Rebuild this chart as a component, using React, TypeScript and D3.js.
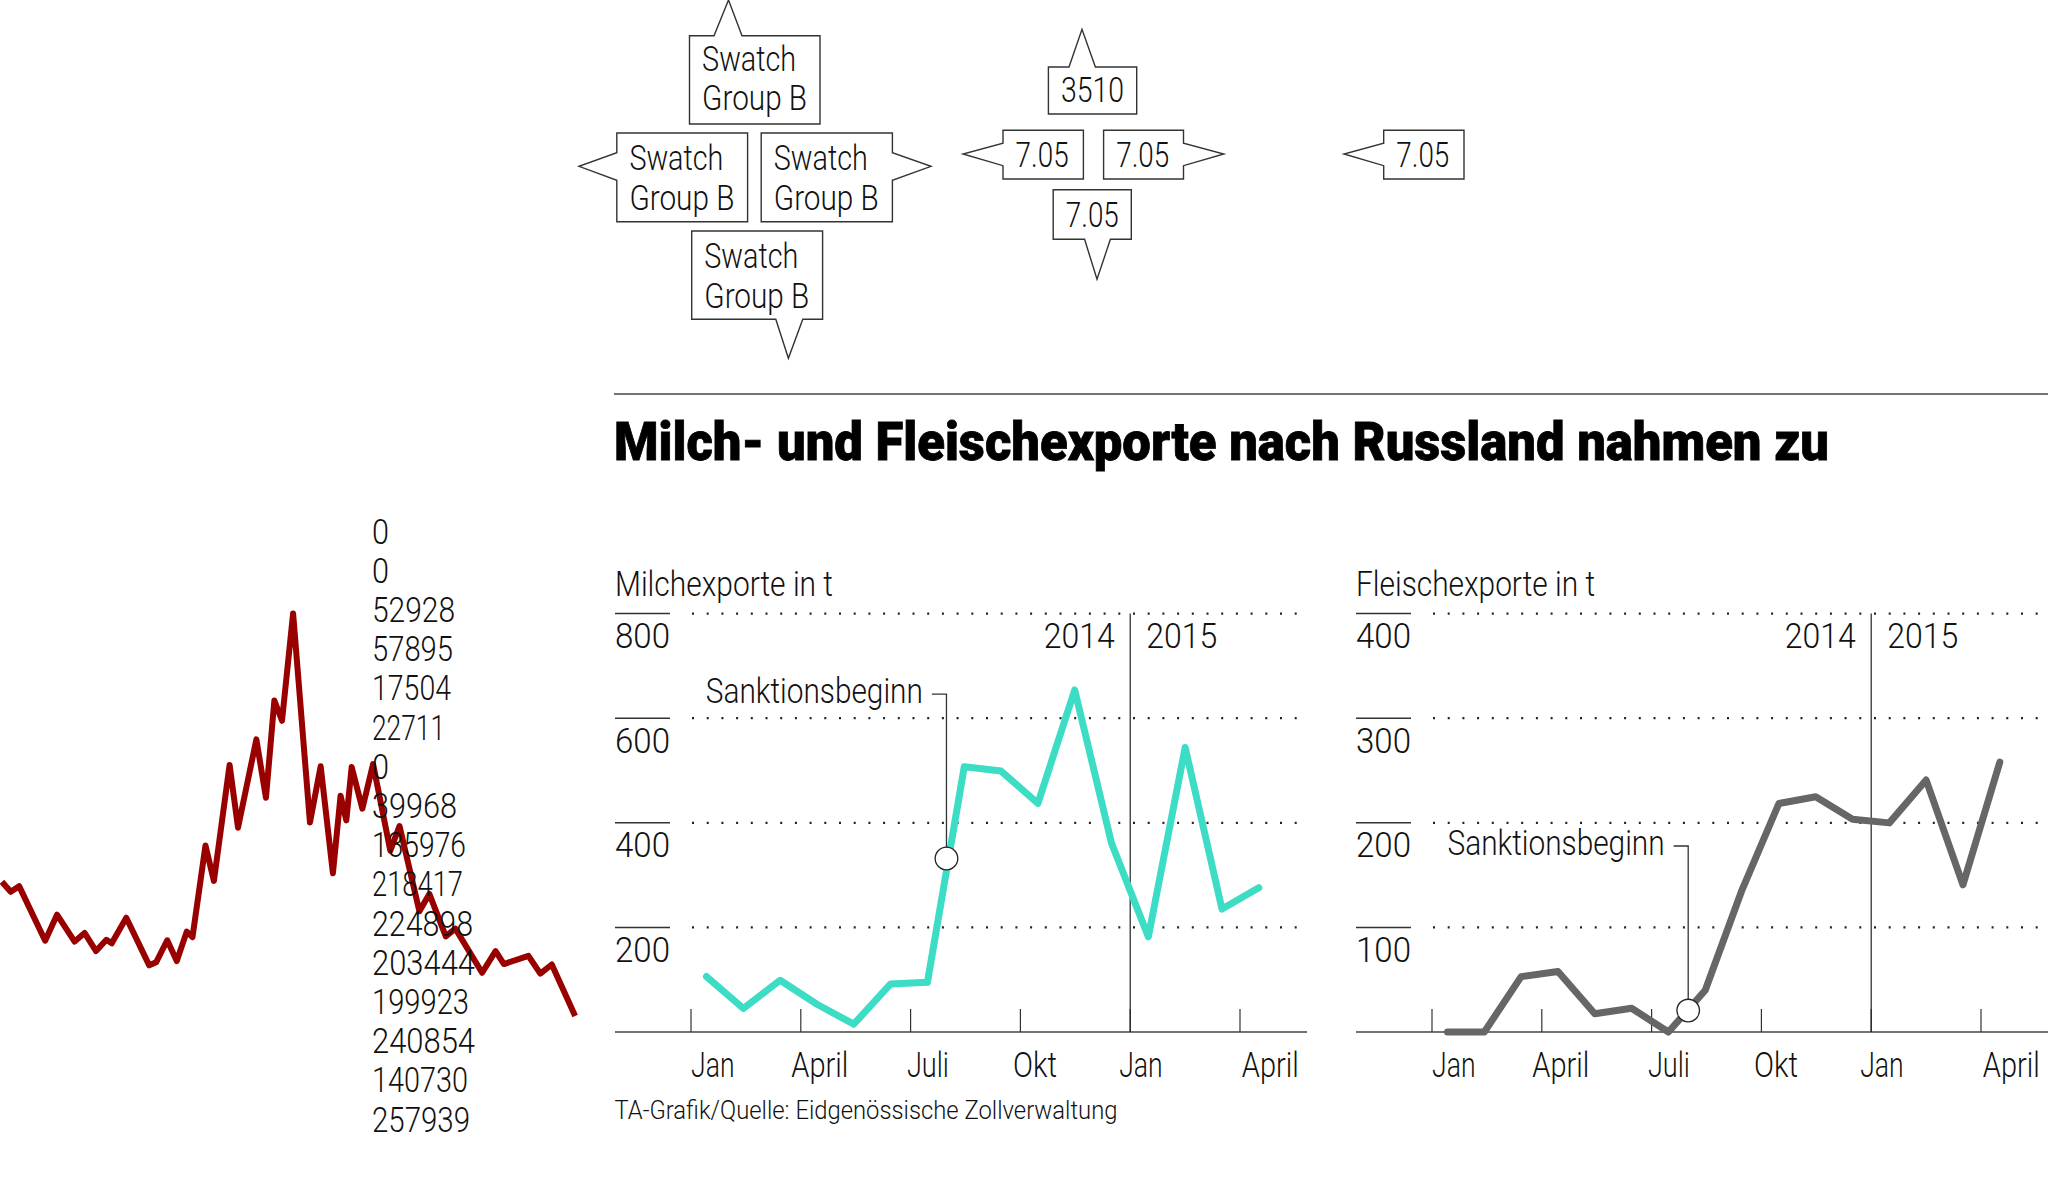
import React from "react";
import * as d3 from "d3";

// ---- data ----
const MEAT_KG = [0, 0, 52928, 57895, 17504, 22711, 0, 39968, 135976, 218417, 224898, 203444, 199923, 240854, 140730, 257939];
const MEAT_T = MEAT_KG.map((v) => v / 1000);
const MILK_T = [106, 45, 99, 53, 15, 92, 95, 507, 499, 437, 654, 361, 182, 544, 235, 276];
const MILK_TICKS = [800, 600, 400, 200];
const MEAT_TICKS = [400, 300, 200, 100];
const MONTH_TICKS = [0, 3, 6, 9, 12, 15];
const MONTH_LABELS = ["Jan", "April", "Juli", "Okt", "Jan", "April"];
const MONTH_LABEL_POS = [0, 2.74, 5.9, 8.8, 11.7, 15.05];
const RED_X = [5, 28, 50, 118, 149, 195, 221, 251, 278, 292, 330, 390, 408, 437, 462, 488, 503, 537, 559, 600, 622, 670, 695, 717, 737, 766, 810, 838, 870, 890, 905, 919, 947, 975, 1020, 1044, 1096, 1122, 1165, 1190, 1260, 1295, 1317, 1381, 1412, 1442, 1503];
const RED_V = [418, 395, 408, 282, 342, 280, 300, 258, 284, 276, 335, 225, 232, 283, 235, 303, 290, 502, 420, 688, 543, 747, 612, 837, 790, 1038, 555, 685, 438, 617, 560, 683, 587, 690, 490, 547, 350, 390, 292, 310, 208, 258, 228, 247, 206, 227, 108];

const LIST_WIDTHS = [17, 17, 83, 81, 79, 73, 17, 85, 94, 91, 101, 103, 97, 103, 96, 98];
const MONTH_WIDTHS = [43.5, 57, 42, 44, 43.5, 57];

const FONT = "Roboto, 'Liberation Sans', sans-serif";
const INK = "#111";

type TP = { x: number; y: number; w?: number; size?: number; weight?: number; bold?: boolean; children: React.ReactNode };
const T = ({ x, y, w, size = 35, weight = 300, bold, children }: TP) => (
  <text x={x} y={y} fontFamily={FONT} fontSize={size} fontWeight={weight} fill={bold ? "#000" : INK}
    stroke={bold ? "#000" : undefined} strokeWidth={bold ? 0.8 : undefined}
    textLength={w} lengthAdjust={w ? "spacingAndGlyphs" : undefined}>{children}</text>
);

type Callout = { x0: number; x1: number; y0: number; y1: number; side: "t" | "b" | "l" | "r"; a: number; b: number; tx: number; ty: number; lines: string[]; baselines: number[]; widths: number[] };
const CALLOUTS: Callout[] = [
  { x0: 689.5, x1: 820, y0: 35.7, y1: 124, side: "t", a: 714, b: 742, tx: 728.5, ty: 0, lines: ["Swatch", "Group B"], baselines: [71, 110], widths: [94, 105] },
  { x0: 616.8, x1: 747.6, y0: 133, y1: 221.7, side: "l", a: 152.7, b: 180.3, tx: 579, ty: 166.3, lines: ["Swatch", "Group B"], baselines: [170, 210], widths: [94, 105] },
  { x0: 761.2, x1: 892.4, y0: 133, y1: 221.7, side: "r", a: 152.7, b: 180.3, tx: 931, ty: 166.3, lines: ["Swatch", "Group B"], baselines: [170, 210], widths: [94, 105] },
  { x0: 691.7, x1: 822.6, y0: 231, y1: 319.3, side: "b", a: 775.8, b: 802.8, tx: 788.4, ty: 358.3, lines: ["Swatch", "Group B"], baselines: [267.5, 307.5], widths: [94, 105] },
  { x0: 1048.4, x1: 1136.7, y0: 67, y1: 114, side: "t", a: 1069, b: 1095.4, tx: 1082, ty: 29.3, lines: ["3510"], baselines: [102], widths: [63] },
  { x0: 1003, x1: 1083.4, y0: 130.2, y1: 179, side: "l", a: 143.3, b: 165.7, tx: 963, ty: 154, lines: ["7.05"], baselines: [167], widths: [53] },
  { x0: 1103.6, x1: 1183.5, y0: 130.2, y1: 179, side: "r", a: 143.3, b: 165.7, tx: 1223.8, ty: 154, lines: ["7.05"], baselines: [167], widths: [53] },
  { x0: 1383.7, x1: 1464, y0: 130.2, y1: 179, side: "l", a: 143.3, b: 165.7, tx: 1344, ty: 154, lines: ["7.05"], baselines: [167], widths: [53] },
  { x0: 1053.2, x1: 1131.3, y0: 189.8, y1: 239.3, side: "b", a: 1084.6, b: 1110.4, tx: 1097, ty: 279.3, lines: ["7.05"], baselines: [227], widths: [53] },
];

function calloutPath(c: Callout) {
  const p = d3.path();
  p.moveTo(c.x0, c.y0);
  if (c.side === "t") { p.lineTo(c.a, c.y0); p.lineTo(c.tx, c.ty); p.lineTo(c.b, c.y0); }
  p.lineTo(c.x1, c.y0);
  if (c.side === "r") { p.lineTo(c.x1, c.a); p.lineTo(c.tx, c.ty); p.lineTo(c.x1, c.b); }
  p.lineTo(c.x1, c.y1);
  if (c.side === "b") { p.lineTo(c.b, c.y1); p.lineTo(c.tx, c.ty); p.lineTo(c.a, c.y1); }
  p.lineTo(c.x0, c.y1);
  if (c.side === "l") { p.lineTo(c.x0, c.b); p.lineTo(c.tx, c.ty); p.lineTo(c.x0, c.a); }
  p.closePath();
  return p.toString();
}

type PanelP = {
  left: number; title: string; titleW: number; values: number[]; ticks: number[]; max: number; color: string;
  gridEnd: number; axisEnd: number; markerMonth: number; markerValue: number; leaderValue: number;
  labelW: number; labelGap: number;
};

const Panel = ({ left, title, titleW, values, ticks, max, color, gridEnd, axisEnd, markerMonth, markerValue, leaderValue, labelW, labelGap }: PanelP) => {
  const x0 = left + 76;
  const x = d3.scaleLinear().domain([0, 16]).range([x0, x0 + 36.6 * 16]);
  const xData = d3.scaleLinear().domain([0, 15]).range([x0 + 15.5, x0 + 15.5 + 552.3]);
  const y = d3.scaleLinear().domain([0, max]).range([1032, 613.6]);
  const line = d3.line<number>().x((_, i) => xData(i)).y((v) => y(v));
  const mx = x(markerMonth);
  const ly = y(leaderValue);
  const labelRight = mx - labelGap;
  return (
    <g>
      <T x={left} y={596} w={titleW}>{title}</T>
      {ticks.map((t) => (
        <g key={t}>
          <line x1={left} x2={left + 55} y1={y(t)} y2={y(t)} stroke="#333" strokeWidth={1.5} />
          <line x1={x0 + 1} x2={gridEnd} y1={y(t)} y2={y(t)} stroke="#222" strokeWidth={2.2} strokeDasharray="2 12.7" />
          <T x={left} y={y(t) + 34.6} w={55}>{t}</T>
        </g>
      ))}
      <line x1={left} x2={axisEnd} y1={y(0)} y2={y(0)} stroke="#444" strokeWidth={1.6} />
      {MONTH_TICKS.map((m) => (
        <line key={m} x1={x(m)} x2={x(m)} y1={1009} y2={1032} stroke="#333" strokeWidth={1.2} />
      ))}
      <line x1={x(12)} x2={x(12)} y1={y(max)} y2={y(0)} stroke="#222" strokeWidth={1.2} />
      <T x={x(12) - 86.5} y={648} w={71}>2014</T>
      <T x={x(12) + 16} y={648} w={71}>2015</T>
      {MONTH_LABELS.map((l, i) => (
        <T key={i} x={x(MONTH_LABEL_POS[i])} y={1076.5} w={MONTH_WIDTHS[i]}>{l}</T>
      ))}
      <path d={line(values) ?? ""} fill="none" stroke={color} strokeWidth={7} strokeLinejoin="round" strokeLinecap="round" />
      <path d={`M${labelRight},${ly}H${mx}V${y(markerValue)}`} fill="none" stroke="#333" strokeWidth={1.3} />
      <circle cx={mx} cy={y(markerValue)} r={11.3} fill="#fff" stroke="#222" strokeWidth={1.3} />
      <T x={labelRight - labelW - 10} y={ly + 9} w={labelW + 1}>Sanktionsbeginn</T>
    </g>
  );
};

export default function App() {
  const rx = d3.scaleLinear().domain([0, 1568]).range([0, 600]);
  const ry = d3.scaleLinear().domain([0, 1300]).range([500 + 1300 / 2.31, 500]);
  const red = d3.line<number>().x((d) => rx(d)).y((_, i) => ry(RED_V[i]));
  return (
    <svg width={2048} height={1178} style={{ position: "absolute", left: 0, top: 0, background: "#fff" }}>
      <path d={red(RED_X) ?? ""} fill="none" stroke="#990000" strokeWidth={6} strokeLinejoin="round" />
      {MEAT_KG.map((v, i) => (
        <T key={i} x={372} y={543.6 + 39.2 * i} w={LIST_WIDTHS[i]}>{v}</T>
      ))}
      {CALLOUTS.map((c, i) => (
        <g key={i}>
          <path d={calloutPath(c)} fill="#fff" stroke="#333" strokeWidth={1.4} />
          {c.lines.map((l, j) => (
            <T key={j} x={c.x0 + (c.lines.length > 1 ? 12.6 : 12.6)} y={c.baselines[j]} w={c.widths[j]}>{l}</T>
          ))}
        </g>
      ))}
      <line x1={614} x2={2048} y1={394} y2={394} stroke="#444" strokeWidth={1.6} />
      <T x={614} y={460} w={1215} size={53} weight={900} bold>Milch- und Fleischexporte nach Russland nahmen zu</T>
      <Panel left={615} title="Milchexporte in t" titleW={218} values={MILK_T} ticks={MILK_TICKS} max={800} color="#3ddcc4"
        gridEnd={1298} axisEnd={1307} markerMonth={6.98} markerValue={331.7} leaderValue={646} labelW={216} labelGap={14.6} />
      <Panel left={1356} title="Fleischexporte in t" titleW={239} values={MEAT_T} ticks={MEAT_TICKS} max={400} color="#666666"
        gridEnd={2039} axisEnd={2048} markerMonth={7} markerValue={20.5} leaderValue={177.8} labelW={216} labelGap={14.6} />
      <T x={614.5} y={1119} w={503} size={26}>TA-Grafik/Quelle: Eidgenössische Zollverwaltung</T>
    </svg>
  );
}
